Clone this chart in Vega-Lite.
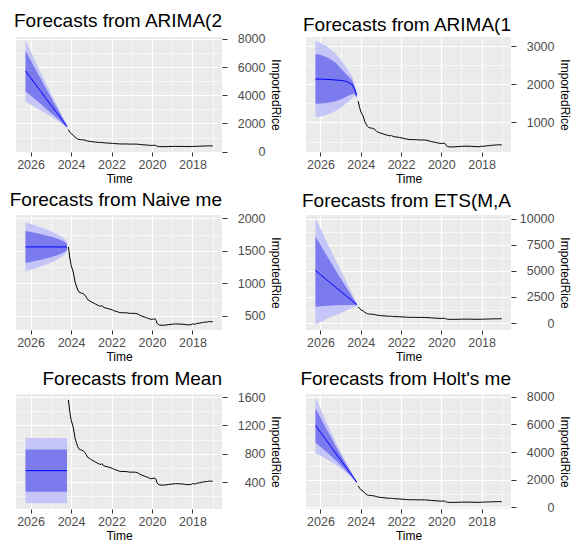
{
  "$schema": "https://vega.github.io/schema/vega-lite/v6.json",
  "background": "white",
  "padding": {"left": 9, "top": 11, "right": 2, "bottom": 0},
  "datasets": {
    "hist": [
      {"t": 2017.00, "v": 414}, {"t": 2017.08, "v": 410}, {"t": 2017.17, "v": 416}, {"t": 2017.25, "v": 409},
      {"t": 2017.33, "v": 407}, {"t": 2017.42, "v": 404}, {"t": 2017.50, "v": 400}, {"t": 2017.58, "v": 395},
      {"t": 2017.67, "v": 388}, {"t": 2017.75, "v": 389}, {"t": 2017.83, "v": 378}, {"t": 2017.92, "v": 372},
      {"t": 2018.00, "v": 380}, {"t": 2018.08, "v": 366}, {"t": 2018.17, "v": 363}, {"t": 2018.33, "v": 367},
      {"t": 2018.50, "v": 374}, {"t": 2018.67, "v": 376}, {"t": 2018.83, "v": 379}, {"t": 2019.00, "v": 373},
      {"t": 2019.17, "v": 368}, {"t": 2019.33, "v": 360}, {"t": 2019.50, "v": 358}, {"t": 2019.62, "v": 359},
      {"t": 2019.70, "v": 372}, {"t": 2019.75, "v": 390}, {"t": 2019.79, "v": 430}, {"t": 2019.83, "v": 452},
      {"t": 2019.92, "v": 455}, {"t": 2020.00, "v": 448}, {"t": 2020.07, "v": 450}, {"t": 2020.17, "v": 462},
      {"t": 2020.33, "v": 480}, {"t": 2020.50, "v": 498}, {"t": 2020.61, "v": 515}, {"t": 2020.72, "v": 532},
      {"t": 2020.82, "v": 540}, {"t": 2021.00, "v": 541}, {"t": 2021.10, "v": 540}, {"t": 2021.25, "v": 548},
      {"t": 2021.34, "v": 550}, {"t": 2021.50, "v": 550}, {"t": 2021.59, "v": 552}, {"t": 2021.72, "v": 566},
      {"t": 2021.84, "v": 576}, {"t": 2021.95, "v": 592}, {"t": 2022.08, "v": 606}, {"t": 2022.20, "v": 616},
      {"t": 2022.33, "v": 626}, {"t": 2022.42, "v": 640}, {"t": 2022.48, "v": 662}, {"t": 2022.52, "v": 648},
      {"t": 2022.60, "v": 655}, {"t": 2022.69, "v": 667}, {"t": 2022.80, "v": 684}, {"t": 2022.90, "v": 702},
      {"t": 2023.00, "v": 715}, {"t": 2023.07, "v": 732}, {"t": 2023.18, "v": 752}, {"t": 2023.25, "v": 790},
      {"t": 2023.31, "v": 818}, {"t": 2023.40, "v": 842}, {"t": 2023.48, "v": 853}, {"t": 2023.55, "v": 858},
      {"t": 2023.61, "v": 869}, {"t": 2023.67, "v": 900}, {"t": 2023.72, "v": 944}, {"t": 2023.80, "v": 1020},
      {"t": 2023.89, "v": 1172}, {"t": 2023.99, "v": 1273}, {"t": 2024.06, "v": 1390}, {"t": 2024.13, "v": 1560}
    ],
    "fc": [
      {"m": "arima2", "t": 2024.20, "mean": 1790, "lo80": 1720, "hi80": 1860, "lo95": 1690, "hi95": 1890},
      {"m": "arima2", "t": 2024.33, "mean": 2036, "lo80": 1902, "hi80": 2170, "lo95": 1838, "hi95": 2234},
      {"m": "arima2", "t": 2024.45, "mean": 2281, "lo80": 2073, "hi80": 2489, "lo95": 1971, "hi95": 2591},
      {"m": "arima2", "t": 2024.71, "mean": 2773, "lo80": 2407, "hi80": 3139, "lo95": 2223, "hi95": 3323},
      {"m": "arima2", "t": 2024.97, "mean": 3264, "lo80": 2732, "hi80": 3796, "lo95": 2460, "hi95": 4068},
      {"m": "arima2", "t": 2025.23, "mean": 3755, "lo80": 3051, "hi80": 4459, "lo95": 2689, "hi95": 4821},
      {"m": "arima2", "t": 2025.48, "mean": 4246, "lo80": 3364, "hi80": 5128, "lo95": 2911, "hi95": 5581},
      {"m": "arima2", "t": 2025.74, "mean": 4738, "lo80": 3677, "hi80": 5799, "lo95": 3130, "hi95": 6346},
      {"m": "arima2", "t": 2025.99, "mean": 5229, "lo80": 3985, "hi80": 6473, "lo95": 3342, "hi95": 7116},
      {"m": "arima2", "t": 2026.25, "mean": 5720, "lo80": 4290, "hi80": 7150, "lo95": 3550, "hi95": 7890},

      {"m": "arima1", "t": 2024.20, "mean": 1711, "lo80": 1660, "hi80": 1760, "lo95": 1630, "hi95": 1790},
      {"m": "arima1", "t": 2024.33, "mean": 1900, "lo80": 1760, "hi80": 1990, "lo95": 1700, "hi95": 2050},
      {"m": "arima1", "t": 2024.45, "mean": 2000, "lo80": 1740, "hi80": 2120, "lo95": 1620, "hi95": 2230},
      {"m": "arima1", "t": 2024.71, "mean": 2075, "lo80": 1680, "hi80": 2260, "lo95": 1500, "hi95": 2440},
      {"m": "arima1", "t": 2024.97, "mean": 2100, "lo80": 1610, "hi80": 2400, "lo95": 1390, "hi95": 2630},
      {"m": "arima1", "t": 2025.23, "mean": 2112, "lo80": 1560, "hi80": 2560, "lo95": 1305, "hi95": 2790},
      {"m": "arima1", "t": 2025.48, "mean": 2122, "lo80": 1530, "hi80": 2650, "lo95": 1240, "hi95": 2910},
      {"m": "arima1", "t": 2025.74, "mean": 2130, "lo80": 1510, "hi80": 2720, "lo95": 1190, "hi95": 3010},
      {"m": "arima1", "t": 2025.99, "mean": 2135, "lo80": 1498, "hi80": 2765, "lo95": 1155, "hi95": 3080},
      {"m": "arima1", "t": 2026.25, "mean": 2138, "lo80": 1489, "hi80": 2796, "lo95": 1133, "hi95": 3133},

      {"m": "naive", "t": 2024.20, "mean": 1560, "lo80": 1510, "hi80": 1610, "lo95": 1483, "hi95": 1637},
      {"m": "naive", "t": 2024.33, "mean": 1560, "lo80": 1482, "hi80": 1638, "lo95": 1440, "hi95": 1680},
      {"m": "naive", "t": 2024.45, "mean": 1560, "lo80": 1462, "hi80": 1658, "lo95": 1409, "hi95": 1711},
      {"m": "naive", "t": 2024.71, "mean": 1560, "lo80": 1430, "hi80": 1690, "lo95": 1361, "hi95": 1759},
      {"m": "naive", "t": 2024.97, "mean": 1560, "lo80": 1405, "hi80": 1715, "lo95": 1323, "hi95": 1797},
      {"m": "naive", "t": 2025.23, "mean": 1560, "lo80": 1383, "hi80": 1737, "lo95": 1289, "hi95": 1831},
      {"m": "naive", "t": 2025.48, "mean": 1560, "lo80": 1364, "hi80": 1756, "lo95": 1260, "hi95": 1860},
      {"m": "naive", "t": 2025.74, "mean": 1560, "lo80": 1346, "hi80": 1774, "lo95": 1233, "hi95": 1887},
      {"m": "naive", "t": 2025.99, "mean": 1560, "lo80": 1330, "hi80": 1790, "lo95": 1208, "hi95": 1912},
      {"m": "naive", "t": 2026.25, "mean": 1560, "lo80": 1315, "hi80": 1805, "lo95": 1185, "hi95": 1935},

      {"m": "ets", "t": 2024.20, "mean": 1770, "lo80": 1700, "hi80": 1840, "lo95": 1650, "hi95": 1890},
      {"m": "ets", "t": 2024.33, "mean": 1974, "lo80": 1720, "hi80": 2210, "lo95": 1550, "hi95": 2390},
      {"m": "ets", "t": 2024.45, "mean": 2178, "lo80": 1740, "hi80": 2590, "lo95": 1440, "hi95": 2900},
      {"m": "ets", "t": 2024.71, "mean": 2585, "lo80": 1740, "hi80": 3380, "lo95": 1200, "hi95": 3940},
      {"m": "ets", "t": 2024.97, "mean": 2993, "lo80": 1730, "hi80": 4180, "lo95": 960, "hi95": 4980},
      {"m": "ets", "t": 2025.23, "mean": 3400, "lo80": 1710, "hi80": 4990, "lo95": 790, "hi95": 5950},
      {"m": "ets", "t": 2025.48, "mean": 3808, "lo80": 1680, "hi80": 5800, "lo95": 580, "hi95": 6950},
      {"m": "ets", "t": 2025.74, "mean": 4215, "lo80": 1650, "hi80": 6620, "lo95": 370, "hi95": 7950},
      {"m": "ets", "t": 2025.99, "mean": 4623, "lo80": 1610, "hi80": 7450, "lo95": 110, "hi95": 9000},
      {"m": "ets", "t": 2026.25, "mean": 5030, "lo80": 1570, "hi80": 8280, "lo95": -160, "hi95": 10050},

      {"m": "mean", "t": 2024.20, "mean": 562, "lo80": 262, "hi80": 860, "lo95": 100, "hi95": 1024},
      {"m": "mean", "t": 2026.25, "mean": 562, "lo80": 262, "hi80": 860, "lo95": 100, "hi95": 1024},

      {"m": "holt", "t": 2024.20, "mean": 1820, "lo80": 1760, "hi80": 1880, "lo95": 1730, "hi95": 1910},
      {"m": "holt", "t": 2024.33, "mean": 2077, "lo80": 1993, "hi80": 2161, "lo95": 1947, "hi95": 2207},
      {"m": "holt", "t": 2024.45, "mean": 2334, "lo80": 2210, "hi80": 2458, "lo95": 2139, "hi95": 2529},
      {"m": "holt", "t": 2024.71, "mean": 2848, "lo80": 2618, "hi80": 3078, "lo95": 2482, "hi95": 3214},
      {"m": "holt", "t": 2024.97, "mean": 3361, "lo80": 3001, "hi80": 3721, "lo95": 2783, "hi95": 3939},
      {"m": "holt", "t": 2025.23, "mean": 3875, "lo80": 3366, "hi80": 4384, "lo95": 3056, "hi95": 4694},
      {"m": "holt", "t": 2025.48, "mean": 4389, "lo80": 3715, "hi80": 5063, "lo95": 3302, "hi95": 5476},
      {"m": "holt", "t": 2025.74, "mean": 4903, "lo80": 4051, "hi80": 5755, "lo95": 3527, "hi95": 6279},
      {"m": "holt", "t": 2025.99, "mean": 5416, "lo80": 4373, "hi80": 6459, "lo95": 3729, "hi95": 7103},
      {"m": "holt", "t": 2026.25, "mean": 5930, "lo80": 4685, "hi80": 7175, "lo95": 3915, "hi95": 7945}
    ]
  },
  "columns": 2,
  "spacing": {"row": 6, "column": 19},
  "concat": [
    {
      "width": 206, "height": 115,
      "title": "Forecasts from ARIMA(2",
      "encoding": {"x": {"field": "t", "type": "quantitative", "title": "Time",
        "scale": {"domain": [2016.54, 2026.72], "reverse": true, "nice": false, "zero": false},
        "axis": {"values": [2017, 2018, 2019, 2020, 2021, 2022, 2023, 2024, 2025, 2026], "tickCount": 50, "format": "d", "labelOverlap": false,
          "labelExpr": "datum.value % 2 == 0 ? datum.label : ''",
          "gridWidth": {"condition": {"test": "datum.value % 2 == 1", "value": 0.6}, "value": 1.2},
          "tickOpacity": {"condition": {"test": "datum.value % 2 == 1", "value": 0}, "value": 1}}}},
      "layer": [
        {"data": {"name": "fc"}, "transform": [{"filter": "datum.m == 'arima2'"}], "mark": {"type": "area", "color": "#C5C5F8", "opacity": 1},
         "encoding": {"y": {"field": "lo95", "type": "quantitative", "title": "ImportedRice",
           "scale": {"domain": [-20, 8130], "nice": false, "zero": false},
           "axis": {"orient": "right", "values": [0, 1000, 2000, 3000, 4000, 5000, 6000, 7000, 8000], "tickCount": 50, "labelOverlap": false,
             "labelExpr": "datum.value % 2000 == 0 ? datum.label : ''", "format": "d",
             "gridWidth": {"condition": {"test": "datum.value % 2000 != 0", "value": 0.6}, "value": 1.2},
             "tickOpacity": {"condition": {"test": "datum.value % 2000 != 0", "value": 0}, "value": 1}}},
           "y2": {"field": "hi95"}}},
        {"data": {"name": "fc"}, "transform": [{"filter": "datum.m == 'arima2'"}], "mark": {"type": "area", "color": "#7B7BEE", "opacity": 1},
         "encoding": {"y": {"field": "lo80", "type": "quantitative", "title": "ImportedRice"}, "y2": {"field": "hi80"}}},
        {"data": {"name": "fc"}, "transform": [{"filter": "datum.m == 'arima2'"}], "mark": {"type": "line", "color": "#0000FF", "strokeWidth": 1},
         "encoding": {"y": {"field": "mean", "type": "quantitative", "title": "ImportedRice"}}},
        {"data": {"name": "hist"}, "mark": {"type": "line", "color": "#000000", "strokeWidth": 1},
         "encoding": {"y": {"field": "v", "type": "quantitative", "title": "ImportedRice"}}}
      ]
    },
    {
      "width": 205, "height": 115,
      "title": "Forecasts from ARIMA(1",
      "encoding": {"x": {"field": "t", "type": "quantitative", "title": "Time",
        "scale": {"domain": [2016.54, 2026.72], "reverse": true, "nice": false, "zero": false},
        "axis": {"values": [2017, 2018, 2019, 2020, 2021, 2022, 2023, 2024, 2025, 2026], "tickCount": 50, "format": "d", "labelOverlap": false,
          "labelExpr": "datum.value % 2 == 0 ? datum.label : ''",
          "gridWidth": {"condition": {"test": "datum.value % 2 == 1", "value": 0.6}, "value": 1.2},
          "tickOpacity": {"condition": {"test": "datum.value % 2 == 1", "value": 0}, "value": 1}}}},
      "layer": [
        {"data": {"name": "fc"}, "transform": [{"filter": "datum.m == 'arima1'"}], "mark": {"type": "area", "color": "#C5C5F8", "opacity": 1},
         "encoding": {"y": {"field": "lo95", "type": "quantitative", "title": "ImportedRice",
           "scale": {"domain": [225, 3240], "nice": false, "zero": false},
           "axis": {"orient": "right", "values": [500, 1000, 1500, 2000, 2500, 3000], "tickCount": 50, "labelOverlap": false,
             "labelExpr": "datum.value % 1000 == 0 ? datum.label : ''", "format": "d",
             "gridWidth": {"condition": {"test": "datum.value % 1000 != 0", "value": 0.6}, "value": 1.2},
             "tickOpacity": {"condition": {"test": "datum.value % 1000 != 0", "value": 0}, "value": 1}}},
           "y2": {"field": "hi95"}}},
        {"data": {"name": "fc"}, "transform": [{"filter": "datum.m == 'arima1'"}], "mark": {"type": "area", "color": "#7B7BEE", "opacity": 1},
         "encoding": {"y": {"field": "lo80", "type": "quantitative", "title": "ImportedRice"}, "y2": {"field": "hi80"}}},
        {"data": {"name": "fc"}, "transform": [{"filter": "datum.m == 'arima1'"}], "mark": {"type": "line", "color": "#0000FF", "strokeWidth": 1},
         "encoding": {"y": {"field": "mean", "type": "quantitative", "title": "ImportedRice"}}},
        {"data": {"name": "hist"}, "mark": {"type": "line", "color": "#000000", "strokeWidth": 1},
         "encoding": {"y": {"field": "v", "type": "quantitative", "title": "ImportedRice"}}}
      ]
    },
    {
      "width": 206, "height": 115,
      "title": "Forecasts from Naive me",
      "encoding": {"x": {"field": "t", "type": "quantitative", "title": "Time",
        "scale": {"domain": [2016.54, 2026.72], "reverse": true, "nice": false, "zero": false},
        "axis": {"values": [2017, 2018, 2019, 2020, 2021, 2022, 2023, 2024, 2025, 2026], "tickCount": 50, "format": "d", "labelOverlap": false,
          "labelExpr": "datum.value % 2 == 0 ? datum.label : ''",
          "gridWidth": {"condition": {"test": "datum.value % 2 == 1", "value": 0.6}, "value": 1.2},
          "tickOpacity": {"condition": {"test": "datum.value % 2 == 1", "value": 0}, "value": 1}}}},
      "layer": [
        {"data": {"name": "fc"}, "transform": [{"filter": "datum.m == 'naive'"}], "mark": {"type": "area", "color": "#C5C5F8", "opacity": 1},
         "encoding": {"y": {"field": "lo95", "type": "quantitative", "title": "ImportedRice",
           "scale": {"domain": [285, 2050], "nice": false, "zero": false},
           "axis": {"orient": "right", "values": [500, 750, 1000, 1250, 1500, 1750, 2000], "tickCount": 50, "labelOverlap": false,
             "labelExpr": "datum.value % 500 == 0 ? datum.label : ''", "format": "d",
             "gridWidth": {"condition": {"test": "datum.value % 500 != 0", "value": 0.6}, "value": 1.2},
             "tickOpacity": {"condition": {"test": "datum.value % 500 != 0", "value": 0}, "value": 1}}},
           "y2": {"field": "hi95"}}},
        {"data": {"name": "fc"}, "transform": [{"filter": "datum.m == 'naive'"}], "mark": {"type": "area", "color": "#7B7BEE", "opacity": 1},
         "encoding": {"y": {"field": "lo80", "type": "quantitative", "title": "ImportedRice"}, "y2": {"field": "hi80"}}},
        {"data": {"name": "fc"}, "transform": [{"filter": "datum.m == 'naive'"}], "mark": {"type": "line", "color": "#0000FF", "strokeWidth": 1},
         "encoding": {"y": {"field": "mean", "type": "quantitative", "title": "ImportedRice"}}},
        {"data": {"name": "hist"}, "mark": {"type": "line", "color": "#000000", "strokeWidth": 1},
         "encoding": {"y": {"field": "v", "type": "quantitative", "title": "ImportedRice"}}}
      ]
    },
    {
      "width": 205, "height": 115,
      "title": "Forecasts from ETS(M,A",
      "encoding": {"x": {"field": "t", "type": "quantitative", "title": "Time",
        "scale": {"domain": [2016.54, 2026.72], "reverse": true, "nice": false, "zero": false},
        "axis": {"values": [2017, 2018, 2019, 2020, 2021, 2022, 2023, 2024, 2025, 2026], "tickCount": 50, "format": "d", "labelOverlap": false,
          "labelExpr": "datum.value % 2 == 0 ? datum.label : ''",
          "gridWidth": {"condition": {"test": "datum.value % 2 == 1", "value": 0.6}, "value": 1.2},
          "tickOpacity": {"condition": {"test": "datum.value % 2 == 1", "value": 0}, "value": 1}}}},
      "layer": [
        {"data": {"name": "fc"}, "transform": [{"filter": "datum.m == 'ets'"}], "mark": {"type": "area", "color": "#C5C5F8", "opacity": 1},
         "encoding": {"y": {"field": "lo95", "type": "quantitative", "title": "ImportedRice",
           "scale": {"domain": [-660, 10340], "nice": false, "zero": false},
           "axis": {"orient": "right", "values": [0, 1250, 2500, 3750, 5000, 6250, 7500, 8750, 10000], "tickCount": 50, "labelOverlap": false,
             "labelExpr": "datum.value % 2500 == 0 ? datum.label : ''", "format": "d",
             "gridWidth": {"condition": {"test": "datum.value % 2500 != 0", "value": 0.6}, "value": 1.2},
             "tickOpacity": {"condition": {"test": "datum.value % 2500 != 0", "value": 0}, "value": 1}}},
           "y2": {"field": "hi95"}}},
        {"data": {"name": "fc"}, "transform": [{"filter": "datum.m == 'ets'"}], "mark": {"type": "area", "color": "#7B7BEE", "opacity": 1},
         "encoding": {"y": {"field": "lo80", "type": "quantitative", "title": "ImportedRice"}, "y2": {"field": "hi80"}}},
        {"data": {"name": "fc"}, "transform": [{"filter": "datum.m == 'ets'"}], "mark": {"type": "line", "color": "#0000FF", "strokeWidth": 1},
         "encoding": {"y": {"field": "mean", "type": "quantitative", "title": "ImportedRice"}}},
        {"data": {"name": "hist"}, "mark": {"type": "line", "color": "#000000", "strokeWidth": 1},
         "encoding": {"y": {"field": "v", "type": "quantitative", "title": "ImportedRice"}}}
      ]
    },
    {
      "width": 206, "height": 115,
      "title": "Forecasts from Mean",
      "encoding": {"x": {"field": "t", "type": "quantitative", "title": "Time",
        "scale": {"domain": [2016.54, 2026.72], "reverse": true, "nice": false, "zero": false},
        "axis": {"values": [2017, 2018, 2019, 2020, 2021, 2022, 2023, 2024, 2025, 2026], "tickCount": 50, "format": "d", "labelOverlap": false,
          "labelExpr": "datum.value % 2 == 0 ? datum.label : ''",
          "gridWidth": {"condition": {"test": "datum.value % 2 == 1", "value": 0.6}, "value": 1.2},
          "tickOpacity": {"condition": {"test": "datum.value % 2 == 1", "value": 0}, "value": 1}}}},
      "layer": [
        {"data": {"name": "fc"}, "transform": [{"filter": "datum.m == 'mean'"}], "mark": {"type": "area", "color": "#C5C5F8", "opacity": 1},
         "encoding": {"y": {"field": "lo95", "type": "quantitative", "title": "ImportedRice",
           "scale": {"domain": [20, 1645], "nice": false, "zero": false},
           "axis": {"orient": "right", "values": [200, 400, 600, 800, 1000, 1200, 1400, 1600], "tickCount": 50, "labelOverlap": false,
             "labelExpr": "datum.value % 400 == 0 ? datum.label : ''", "format": "d",
             "gridWidth": {"condition": {"test": "datum.value % 400 != 0", "value": 0.6}, "value": 1.2},
             "tickOpacity": {"condition": {"test": "datum.value % 400 != 0", "value": 0}, "value": 1}}},
           "y2": {"field": "hi95"}}},
        {"data": {"name": "fc"}, "transform": [{"filter": "datum.m == 'mean'"}], "mark": {"type": "area", "color": "#7B7BEE", "opacity": 1},
         "encoding": {"y": {"field": "lo80", "type": "quantitative", "title": "ImportedRice"}, "y2": {"field": "hi80"}}},
        {"data": {"name": "fc"}, "transform": [{"filter": "datum.m == 'mean'"}], "mark": {"type": "line", "color": "#0000FF", "strokeWidth": 1},
         "encoding": {"y": {"field": "mean", "type": "quantitative", "title": "ImportedRice"}}},
        {"data": {"name": "hist"}, "mark": {"type": "line", "color": "#000000", "strokeWidth": 1},
         "encoding": {"y": {"field": "v", "type": "quantitative", "title": "ImportedRice"}}}
      ]
    },
    {
      "width": 205, "height": 115,
      "title": "Forecasts from Holt's me",
      "encoding": {"x": {"field": "t", "type": "quantitative", "title": "Time",
        "scale": {"domain": [2016.54, 2026.72], "reverse": true, "nice": false, "zero": false},
        "axis": {"values": [2017, 2018, 2019, 2020, 2021, 2022, 2023, 2024, 2025, 2026], "tickCount": 50, "format": "d", "labelOverlap": false,
          "labelExpr": "datum.value % 2 == 0 ? datum.label : ''",
          "gridWidth": {"condition": {"test": "datum.value % 2 == 1", "value": 0.6}, "value": 1.2},
          "tickOpacity": {"condition": {"test": "datum.value % 2 == 1", "value": 0}, "value": 1}}}},
      "layer": [
        {"data": {"name": "fc"}, "transform": [{"filter": "datum.m == 'holt'"}], "mark": {"type": "area", "color": "#C5C5F8", "opacity": 1},
         "encoding": {"y": {"field": "lo95", "type": "quantitative", "title": "ImportedRice",
           "scale": {"domain": [-120, 8200], "nice": false, "zero": false},
           "axis": {"orient": "right", "values": [0, 1000, 2000, 3000, 4000, 5000, 6000, 7000, 8000], "tickCount": 50, "labelOverlap": false,
             "labelExpr": "datum.value % 2000 == 0 ? datum.label : ''", "format": "d",
             "gridWidth": {"condition": {"test": "datum.value % 2000 != 0", "value": 0.6}, "value": 1.2},
             "tickOpacity": {"condition": {"test": "datum.value % 2000 != 0", "value": 0}, "value": 1}}},
           "y2": {"field": "hi95"}}},
        {"data": {"name": "fc"}, "transform": [{"filter": "datum.m == 'holt'"}], "mark": {"type": "area", "color": "#7B7BEE", "opacity": 1},
         "encoding": {"y": {"field": "lo80", "type": "quantitative", "title": "ImportedRice"}, "y2": {"field": "hi80"}}},
        {"data": {"name": "fc"}, "transform": [{"filter": "datum.m == 'holt'"}], "mark": {"type": "line", "color": "#0000FF", "strokeWidth": 1},
         "encoding": {"y": {"field": "mean", "type": "quantitative", "title": "ImportedRice"}}},
        {"data": {"name": "hist"}, "mark": {"type": "line", "color": "#000000", "strokeWidth": 1},
         "encoding": {"y": {"field": "v", "type": "quantitative", "title": "ImportedRice"}}}
      ]
    }
  ],
  "config": {
    "view": {"fill": "#EBEBEB", "stroke": null},
    "font": "Liberation Sans",
    "axis": {"domain": false, "gridColor": "#FFFFFF", "tickColor": "#333333", "tickSize": 4, "tickWidth": 1,
      "labelOverlap": false, "labelColor": "#4D4D4D", "labelFont": "Liberation Sans", "labelFontSize": 12.5, "labelPadding": 2,
      "titleFont": "Liberation Sans", "titleFontSize": 12, "titleFontWeight": "normal", "titleColor": "#000000", "titlePadding": 3},
    "axisY": {"tickSize": 5, "labelPadding": 38, "labelAlign": "right", "titleX": 46},
    "title": {"anchor": "end", "frame": "group", "font": "Liberation Sans", "fontSize": 19, "fontWeight": "normal", "color": "#000000", "offset": 2}
  }
}
